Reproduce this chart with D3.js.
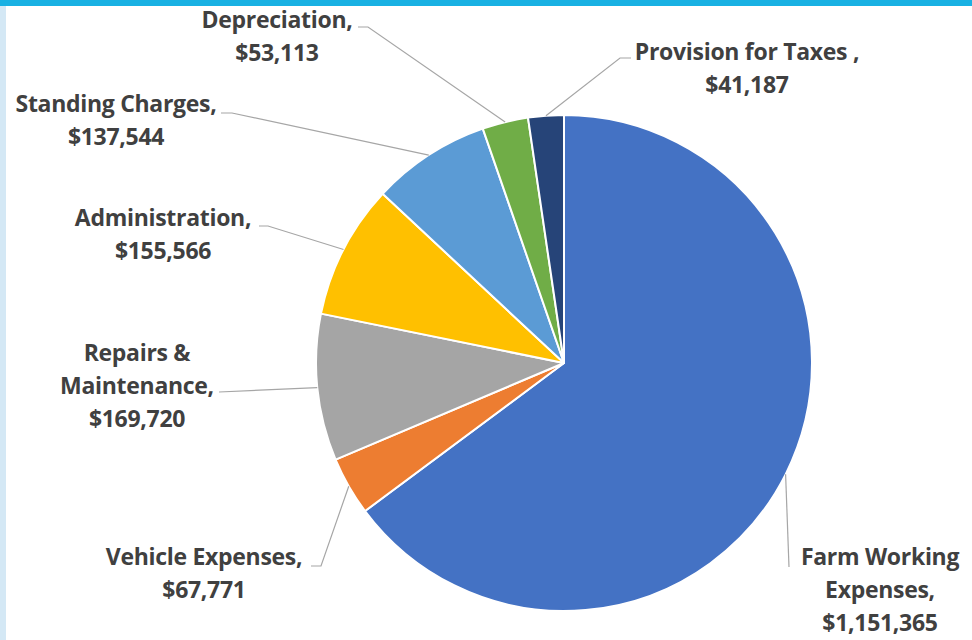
<!DOCTYPE html>
<html>
<head>
<meta charset="utf-8">
<script src="https://cdn.jsdelivr.net/npm/d3@7/dist/d3.min.js"></script>
<style>
  html, body { margin: 0; padding: 0; background: #ffffff; }
  svg { display: block; }
</style>
</head>
<body>
<svg id="chart" width="972" height="640"></svg>
<script>
// Expense categories, clockwise from 12 o'clock
const categories = [
  "Farm Working Expenses",
  "Vehicle Expenses",
  "Repairs & Maintenance",
  "Administration",
  "Standing Charges",
  "Depreciation",
  "Provision for Taxes"
];
const values = [1151365, 67771, 169720, 155566, 137544, 53113, 41187];
// Label text lines (value line is appended from the data)
const labelLines = [
  ["Farm Working", "Expenses,"],
  ["Vehicle Expenses,"],
  ["Repairs &", "Maintenance,"],
  ["Administration,"],
  ["Standing Charges,"],
  ["Depreciation,"],
  ["Provision for Taxes ,"]
];
const colors = ["#4472c4", "#ed7d31", "#a5a5a5", "#ffc000", "#5b9bd5", "#70ad47", "#264478"];

// Label placement: centre x, first baseline, leader start and elbow
const labelLayout = [
  { cx: 880, y: 565, start: [789, 567], elbow: null },
  { cx: 204, y: 565, start: [311, 566], elbow: [321, 566] },
  { cx: 137, y: 361, start: [219, 392], elbow: null },
  { cx: 163, y: 226, start: [259, 226], elbow: [268, 226] },
  { cx: 116, y: 112, start: [221, 113], elbow: [232, 113] },
  { cx: 277, y: 28,  start: [358, 27],  elbow: [368, 27] },
  { cx: 747, y: 60,  start: [631, 58],  elbow: [620, 58] }
];

const data = categories.map((c, i) => ({ name: c, value: values[i], lines: labelLines[i], color: colors[i], layout: labelLayout[i] }));

const svg = d3.select("#chart");
const W = 972, H = 640;

// Frame: cyan band on top, pale blue band on the left
svg.append("rect").attr("x", 0).attr("y", 0).attr("width", W).attr("height", H).attr("fill", "#ffffff");
svg.append("rect").attr("x", 0).attr("y", 0).attr("width", 6).attr("height", H).attr("fill", "#d4e8f5");
svg.append("rect").attr("x", 0).attr("y", 0).attr("width", W).attr("height", 6).attr("fill", "#19b1e3");

const cx = 564, cy = 363, r = 248;
const fmt = d3.format("$,");

const pie = d3.pie().value(d => d.value).sort(null).startAngle(0).endAngle(2 * Math.PI);
const arcs = pie(data);
const arc = d3.arc().innerRadius(0).outerRadius(r);

const g = svg.append("g").attr("transform", `translate(${cx},${cy})`);
g.selectAll("path.slice")
  .data(arcs)
  .join("path")
  .attr("class", "slice")
  .attr("d", arc)
  .attr("fill", d => d.data.color)
  .attr("stroke", "#ffffff")
  .attr("stroke-width", 2)
  .attr("stroke-linejoin", "round");

// Leader lines from each label to the middle of its slice's rim
const leaders = svg.append("g");
arcs.forEach(a => {
  const mid = (a.startAngle + a.endAngle) / 2;
  const px = cx + r * Math.sin(mid);
  const py = cy - r * Math.cos(mid);
  const L = a.data.layout;
  const pts = [L.start];
  if (L.elbow) pts.push(L.elbow);
  pts.push([px, py]);
  leaders.append("path")
    .attr("d", d3.line()(pts))
    .attr("fill", "none")
    .attr("stroke", "#a6a6a6")
    .attr("stroke-width", 1.2);
});

// Data labels
const labels = svg.append("g")
  .attr("font-family", "'Open Sans', sans-serif")
  .attr("font-weight", "bold")
  .attr("font-size", 23)
  .attr("letter-spacing", -0.3)
  .attr("fill", "#404040")
  .attr("text-anchor", "middle");
arcs.forEach(a => {
  const L = a.data.layout;
  const lines = a.data.lines.concat([fmt(a.data.value)]);
  const t = labels.append("text").attr("x", L.cx).attr("y", L.y);
  lines.forEach((ln, i) => {
    t.append("tspan").attr("x", L.cx).attr("dy", i === 0 ? 0 : 33).text(ln);
  });
});
</script>
</body>
</html>
